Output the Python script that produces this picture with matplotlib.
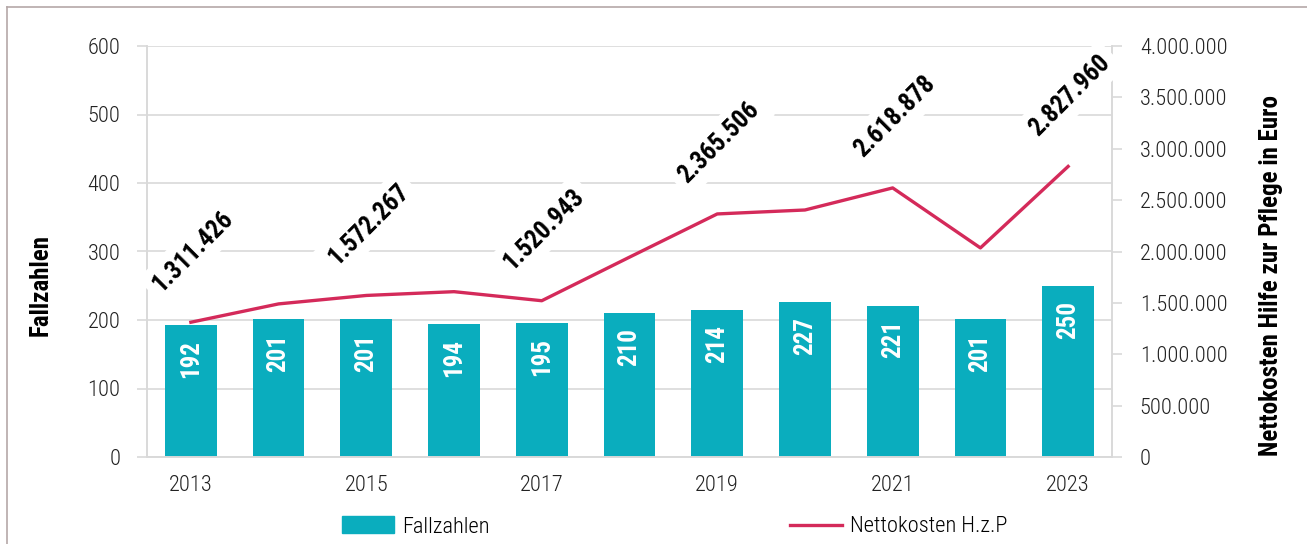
import matplotlib
matplotlib.use('Agg')
import matplotlib.pyplot as plt
from matplotlib import font_manager
from matplotlib.patches import Patch
from matplotlib.lines import Line2D

# data
years = ['2013', '2014', '2015', '2016', '2017', '2018', '2019', '2020', '2021', '2022', '2023']
fallzahlen = [192, 201, 201, 194, 195, 210, 214, 227, 221, 201, 250]
nettokosten = [1311426, 1490000, 1572267, 1609000, 1520943, 1945000, 2365506, 2404000, 2618878, 2035000, 2827960]
labelled_years = ['2013', '2015', '2017', '2019', '2021', '2023']
left_ticks = [0, 100, 200, 300, 400, 500, 600]
right_ticks = [0, 500000, 1000000, 1500000, 2000000, 2500000, 3000000, 3500000, 4000000]

bar_color = '#0aadbe'
line_color = '#d42a5a'
grid_color = '#d9d9d9'

# narrow font if one is installed, otherwise Roboto
installed = {f.name for f in font_manager.fontManager.ttflist}
fam, k = 'Roboto', 1.0
for name in ['Roboto Condensed', 'Liberation Sans Narrow', 'Open Sans Condensed']:
    if name in installed:
        fam, k = name, 1.2
        break
plt.rcParams['font.family'] = [fam, 'DejaVu Sans']

fs_tick = 13.4 * k
fs_bold = 15 * k
fs_axis = 15 * k


def fmt_de(v):
    return f'{int(v):,}'.replace(',', '.')


W, H = 1307, 544
fig = plt.figure(figsize=(W / 100, H / 100), dpi=100)
ax = fig.add_axes([147 / W, 1 - 457 / H, (1112 - 147) / W, (457 - 46) / H])
ax2 = ax.twinx()

x = list(range(len(years)))
ax.bar(x, fallzahlen, width=0.59, color=bar_color, zorder=2)
for xi, v in zip(x, fallzahlen):
    ax.annotate(str(v), (xi, v), xytext=(0, -15), textcoords='offset pixels',
                rotation=90, ha='center', va='top', color='white',
                fontsize=fs_bold, fontweight='bold', zorder=3)

ax2.plot(x, nettokosten, color=line_color, lw=2.4, zorder=3)
for xi, (yr, v) in enumerate(zip(years, nettokosten)):
    if yr in labelled_years:
        ax2.annotate(fmt_de(v), (xi, v), xytext=(2, 71), textcoords='offset pixels',
                     rotation=45, rotation_mode='anchor', ha='center', va='center',
                     fontsize=fs_bold, fontweight='bold', color='black',
                     bbox=dict(boxstyle='square,pad=0.3', fc='white', ec='none'))

ax.set_xlim(-0.5, len(years) - 0.5)
ax.set_ylim(0, 600)
ax2.set_ylim(0, 4000000)
ax.set_yticks(left_ticks)
ax2.set_yticks(right_ticks)
ax2.set_yticklabels([fmt_de(t) for t in right_ticks])
ax.set_xticks(x)
ax.set_xticklabels([y if y in labelled_years else '' for y in years])
for lab in ax.get_yticklabels() + ax2.get_yticklabels() + ax.get_xticklabels():
    lab.set_fontweight('light')

ax.grid(axis='y', color=grid_color, lw=1.2, zorder=0)
ax.set_axisbelow(True)
for a in (ax, ax2):
    a.spines['top'].set_visible(False)
    for s in ('left', 'right', 'bottom'):
        a.spines[s].set_color(grid_color)
        a.spines[s].set_linewidth(1.2)
ax.tick_params(axis='y', length=7, width=1.2, color=grid_color, labelsize=fs_tick, pad=12, labelcolor='#222222')
ax.tick_params(axis='x', length=0, labelsize=fs_tick, pad=13, labelcolor='#222222')
ax2.tick_params(axis='y', length=7, width=1.2, color=grid_color, labelsize=fs_tick, pad=13, labelcolor='#222222')

fig.text(41 / W, 1 - 285 / H, 'Fallzahlen', rotation=90, ha='center', va='center',
         fontsize=fs_axis, fontweight='bold')
fig.text(1271 / W, 1 - 275 / H, 'Nettokosten Hilfe zur Pflege in Euro', rotation=90,
         ha='center', va='center', fontsize=fs_axis, fontweight='bold')

# legend entries placed one by one
hl = 52 / (fs_tick * 1.389)
leg1 = fig.legend([Patch(color=bar_color)], ['Fallzahlen'], loc='center left',
                  bbox_to_anchor=(342 / W, 1 - 527 / H), frameon=False, fontsize=fs_tick,
                  handlelength=hl, handleheight=0.8, handletextpad=0.35,
                  borderpad=0, borderaxespad=0)
for t in leg1.get_texts():
    t.set_fontweight('light')
leg2 = fig.legend([Line2D([0], [0], color=line_color, lw=2.4)], ['Nettokosten H.z.P'],
                  loc='center left', bbox_to_anchor=(790 / W, 1 - 527 / H), frameon=False,
                  fontsize=fs_tick, handlelength=hl, handletextpad=0.35,
                  borderpad=0, borderaxespad=0)
for t in leg2.get_texts():
    t.set_fontweight('light')

# thin frame on top and left
fig.add_artist(Line2D([7 / W, 1], [1 - 7 / H, 1 - 7 / H], color='#b5a8a8', lw=1.2))
fig.add_artist(Line2D([7 / W, 7 / W], [0, 1 - 7 / H], color='#b5a8a8', lw=1.2))

fig.savefig('out.png', dpi=100)
